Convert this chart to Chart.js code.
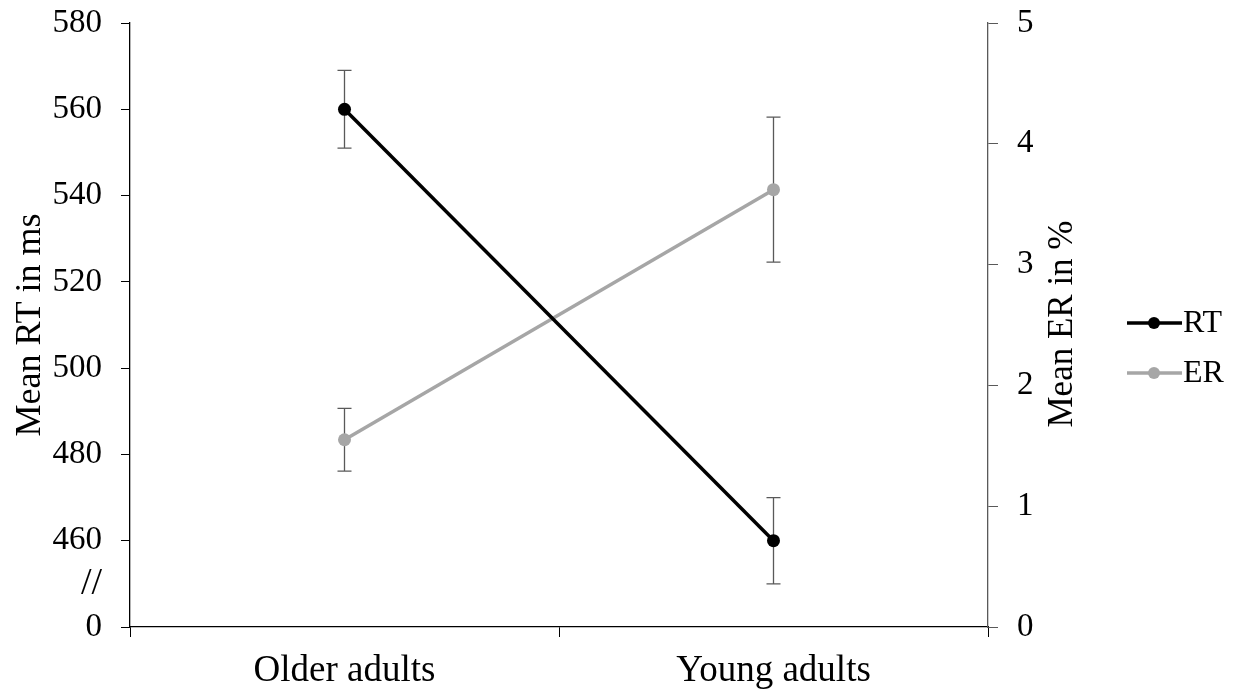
<!DOCTYPE html>
<html>
<head>
<meta charset="utf-8">
<script src="https://cdn.jsdelivr.net/npm/chart.js@4.4.1/dist/chart.umd.min.js"></script>
<style>
  html, body { margin: 0; padding: 0; background: #fff; }
  #wrap { width: 1241px; height: 694px; }
</style>
</head>
<body>
<div id="wrap"><canvas id="chart" width="1241" height="694"></canvas></div>
<script>
const categories = ['Older adults', 'Young adults'];
const rtMeans = [560, 460];
const rtErrors = [9, 10];
const erMeans = [1.55, 3.62];
const erErrors = [0.26, 0.6];

// left axis is broken: the lowest tick stands for 0, "//" marks the gap
const rtTickValues = [440, 450, 460, 480, 500, 520, 540, 560, 580];
const rtTickLabels = ['0', '//', '460', '480', '500', '520', '540', '560', '580'];
const erTickValues = [0, 1, 2, 3, 4, 5];

const FONT = '"Liberation Serif", "Times New Roman", serif';

const errorBars = {
  id: 'errorBars',
  beforeDatasetsDraw(chart) {
    const { ctx } = chart;
    const x = chart.scales.x;
    ctx.save();
    ctx.strokeStyle = '#595959';
    ctx.lineWidth = 1.3;
    chart.data.datasets.forEach(ds => {
      const y = chart.scales[ds.yAxisID];
      ds.data.forEach((v, i) => {
        const px = x.getPixelForValue(i);
        const top = y.getPixelForValue(v + ds.errors[i]);
        const bot = y.getPixelForValue(v - ds.errors[i]);
        ctx.beginPath();
        ctx.moveTo(px, top); ctx.lineTo(px, bot);
        ctx.moveTo(px - 7, top); ctx.lineTo(px + 7, top);
        ctx.moveTo(px - 7, bot); ctx.lineTo(px + 7, bot);
        ctx.stroke();
      });
    });
    ctx.restore();
  }
};

const extras = {
  id: 'extras',
  afterDraw(chart) {
    const { ctx } = chart;
    ctx.save();
    // right axis title, reading bottom to top
    ctx.translate(1063, 324);
    ctx.rotate(-Math.PI / 2);
    ctx.fillStyle = '#000';
    ctx.font = '35px ' + FONT;
    ctx.textAlign = 'center';
    ctx.textBaseline = 'middle';
    ctx.fillText('Mean ER in %', 0, 0);
    ctx.restore();

    // legend
    ctx.save();
    chart.data.datasets.forEach((ds, i) => {
      const y = 323 + i * 50;
      ctx.strokeStyle = ds.borderColor;
      ctx.lineWidth = 3.5;
      ctx.beginPath();
      ctx.moveTo(1127, y); ctx.lineTo(1182, y);
      ctx.stroke();
      ctx.fillStyle = ds.borderColor;
      ctx.beginPath();
      ctx.arc(1154, y, 6, 0, Math.PI * 2);
      ctx.fill();
      ctx.fillStyle = '#000';
      ctx.font = '32px ' + FONT;
      ctx.textAlign = 'left';
      ctx.textBaseline = 'middle';
      ctx.fillText(ds.label, 1183, y + 1);
    });
    ctx.restore();
  }
};

new Chart(document.getElementById('chart').getContext('2d'), {
  type: 'line',
  data: {
    labels: categories,
    datasets: [{
      label: 'RT',
      data: rtMeans,
      errors: rtErrors,
      yAxisID: 'yRT',
      borderColor: '#000000',
      backgroundColor: '#000000',
      borderWidth: 3.5,
      pointRadius: 6.5,
      pointBorderWidth: 0
    }, {
      label: 'ER',
      data: erMeans,
      errors: erErrors,
      yAxisID: 'yER',
      borderColor: '#a6a6a6',
      backgroundColor: '#a6a6a6',
      borderWidth: 3.5,
      pointRadius: 6.5,
      pointBorderWidth: 0
    }]
  },
  options: {
    responsive: false,
    animation: false,
    layout: { padding: { top: 23, right: 161, left: 0, bottom: 0 } },
    plugins: {
      legend: { display: false },
      tooltip: { enabled: false }
    },
    scales: {
      x: {
        offset: true,
        grid: { offset: true, drawOnChartArea: false, tickLength: 10, tickColor: '#000', tickWidth: 1 },
        border: { color: '#000', width: 1.3 },
        ticks: { color: '#000', padding: 12, font: { family: FONT, size: 37 } },
        afterFit(s) { s.height = 67; }
      },
      yRT: {
        position: 'left',
        min: 440,
        max: 580,
        afterBuildTicks(s) { s.ticks = rtTickValues.map(v => ({ value: v })); },
        grid: {
          drawOnChartArea: false,
          tickLength: 9,
          tickColor: c => (c.tick && c.tick.value === 450 ? 'rgba(0,0,0,0)' : '#000')
        },
        border: { color: '#000', width: 1.3 },
        ticks: {
          color: '#000',
          padding: 19,
          font: c => ({ family: FONT, size: c.tick && c.tick.value === 450 ? 38 : 33 }),
          callback: v => rtTickLabels[rtTickValues.indexOf(v)]
        },
        title: {
          display: true,
          text: 'Mean RT in ms',
          color: '#000',
          font: { family: FONT, size: 36 },
          padding: { top: 9, bottom: 0 }
        },
        afterFit(s) { s.width = 130; s.paddingTop = 0; s.paddingBottom = 0; }
      },
      yER: {
        position: 'right',
        min: 0,
        max: 5,
        afterBuildTicks(s) { s.ticks = erTickValues.map(v => ({ value: v })); },
        grid: { drawOnChartArea: false, tickLength: 10, tickColor: '#595959' },
        border: { color: '#595959', width: 1.3 },
        ticks: { color: '#000', padding: 19, font: { family: FONT, size: 33 } },
        afterFit(s) { s.width = 92; s.paddingTop = 0; s.paddingBottom = 0; }
      }
    }
  },
  plugins: [errorBars, extras]
});
</script>
</body>
</html>
